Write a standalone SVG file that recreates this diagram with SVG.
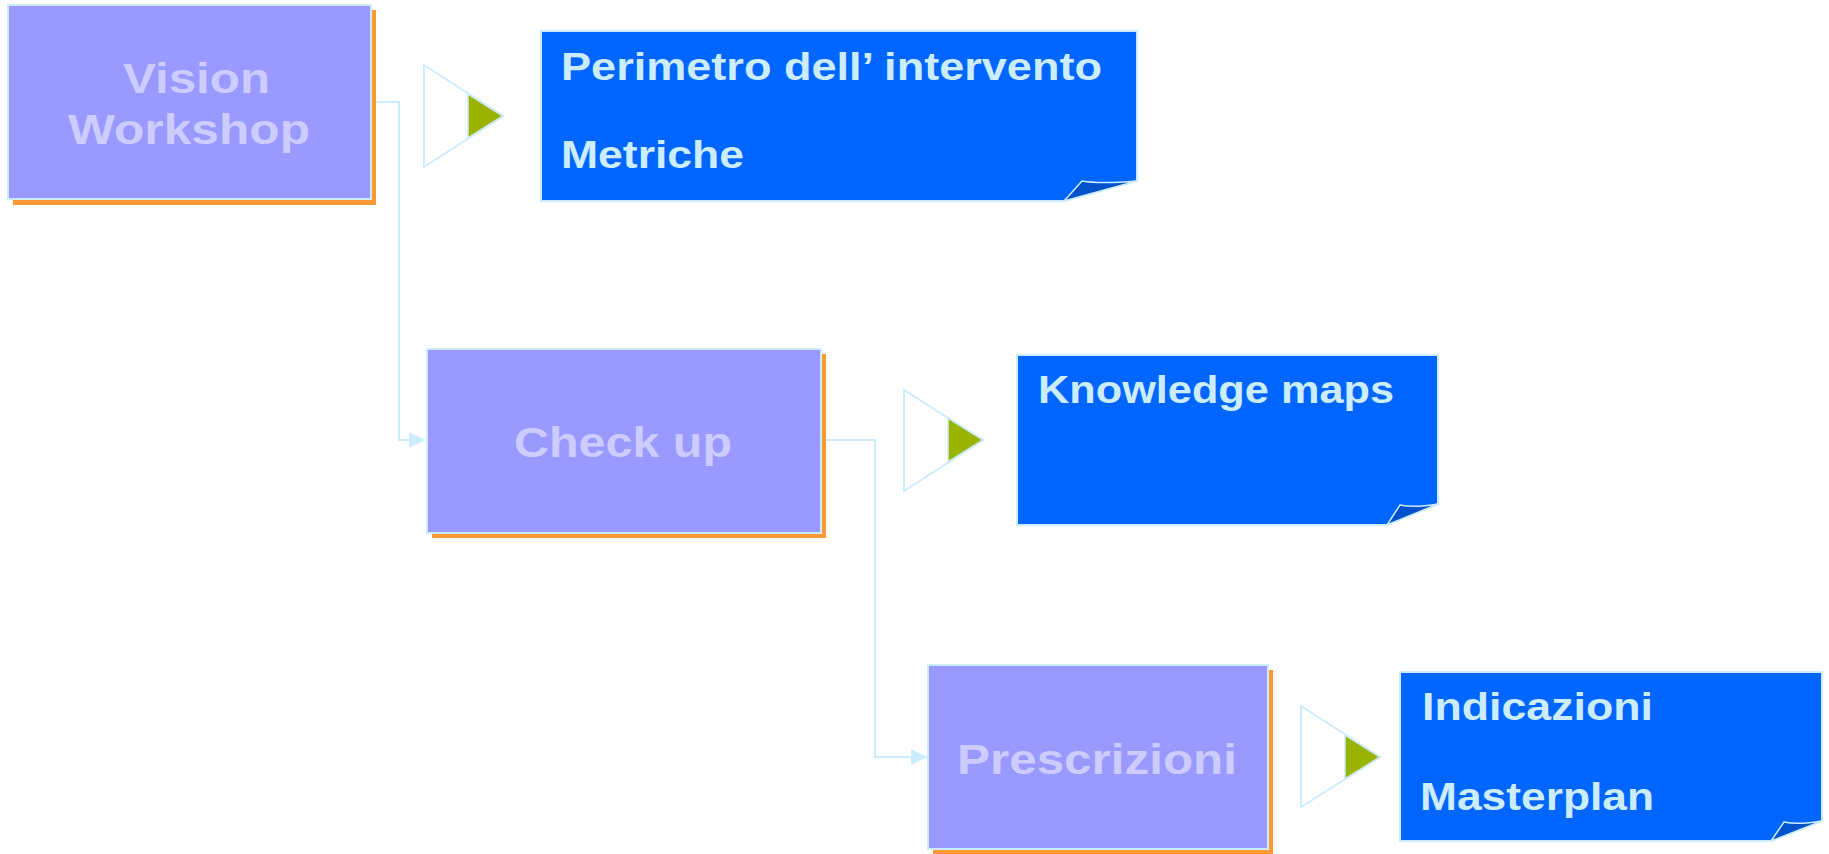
<svg xmlns="http://www.w3.org/2000/svg" width="1829" height="854" viewBox="0 0 1829 854">
<defs>
<style>
.shadow{fill:#FF9933}
.box{fill:#9999FF;stroke:#CCECFF;stroke-width:2}
.title{font-family:"Liberation Sans",Arial,sans-serif;font-weight:bold;font-size:43px;fill:#CCCCFF}
.note{fill:#0066FF;stroke:#CCECFF;stroke-width:2}
.fold{fill:#0052CC;stroke:#CCECFF;stroke-width:1.5;stroke-linejoin:round}
.ntext{font-family:"Liberation Sans",Arial,sans-serif;font-weight:bold;font-size:38.5px;fill:#CCECFF}
.tri{fill:#FFFFFF;stroke:#CCECFF;stroke-width:2}
.gtri{fill:#99B300;stroke:#CCECFF;stroke-width:1.5}
.conn{fill:none;stroke:#CCECFF;stroke-width:2}
</style>
<marker id="arr" viewBox="0 0 16 16" refX="16" refY="8" markerWidth="16" markerHeight="16" markerUnits="userSpaceOnUse" orient="auto">
<path d="M0,0 L16,8 L0,16 z" fill="#CCECFF"/>
</marker>
</defs>
<rect width="1829" height="854" fill="#FFFFFF"/>

<g id="connectors">
<path class="conn" d="M371,102 H399 V440 H425" marker-end="url(#arr)"/>
<path class="conn" d="M821,440 H875 V757 H927" marker-end="url(#arr)"/>
</g>

<g id="vision">
<rect class="shadow" x="13" y="10" width="363" height="195"/>
<rect class="box" x="8" y="5" width="363" height="194"/>
<text class="title" x="123" y="93" textLength="147" lengthAdjust="spacingAndGlyphs">Vision</text>
<text class="title" x="68" y="144" textLength="242" lengthAdjust="spacingAndGlyphs">Workshop</text>
</g>

<g id="arrow1">
<polygon class="tri" points="424,65 503,116 424,167"/>
<polygon class="gtri" points="468,94 503,116 468,138"/>
</g>

<g id="note1">
<path class="note" d="M541,31 H1137 V181 L1064,201 H541 Z"/>
<path class="fold" d="M1064,201 L1082,181 Q1100,184 1137,181 Z"/>
<text class="ntext" x="561" y="80" textLength="541" lengthAdjust="spacingAndGlyphs">Perimetro dell’ intervento</text>
<text class="ntext" x="561" y="168" textLength="183" lengthAdjust="spacingAndGlyphs">Metriche</text>
</g>

<g id="checkup">
<rect class="shadow" x="432" y="354" width="394" height="184"/>
<rect class="box" x="427" y="349" width="394" height="184"/>
<text class="title" x="514" y="457" textLength="218" lengthAdjust="spacingAndGlyphs">Check up</text>
</g>

<g id="arrow2">
<polygon class="tri" points="904,390 983,440 904,491"/>
<polygon class="gtri" points="948,418 983,440 948,462"/>
</g>

<g id="note2">
<path class="note" d="M1017,355 H1438 V504 L1387,525 H1017 Z"/>
<path class="fold" d="M1387,525 L1400,505 Q1414,508 1438,504 Z"/>
<text class="ntext" x="1038" y="403" textLength="356" lengthAdjust="spacingAndGlyphs">Knowledge maps</text>
</g>

<g id="prescrizioni">
<rect class="shadow" x="933" y="670" width="340" height="184"/>
<rect class="box" x="928" y="665" width="340" height="184"/>
<text class="title" x="957" y="774" textLength="280" lengthAdjust="spacingAndGlyphs">Prescrizioni</text>
</g>

<g id="arrow3">
<polygon class="tri" points="1301,706 1380,757 1301,807"/>
<polygon class="gtri" points="1345,735 1380,757 1345,779"/>
</g>

<g id="note3">
<path class="note" d="M1400,672 H1822 V821 L1771,841 H1400 Z"/>
<path class="fold" d="M1771,841 L1784,822 Q1798,825 1822,821 Z"/>
<text class="ntext" x="1422" y="720" textLength="231" lengthAdjust="spacingAndGlyphs">Indicazioni</text>
<text class="ntext" x="1420" y="810" textLength="234" lengthAdjust="spacingAndGlyphs">Masterplan</text>
</g>
</svg>
